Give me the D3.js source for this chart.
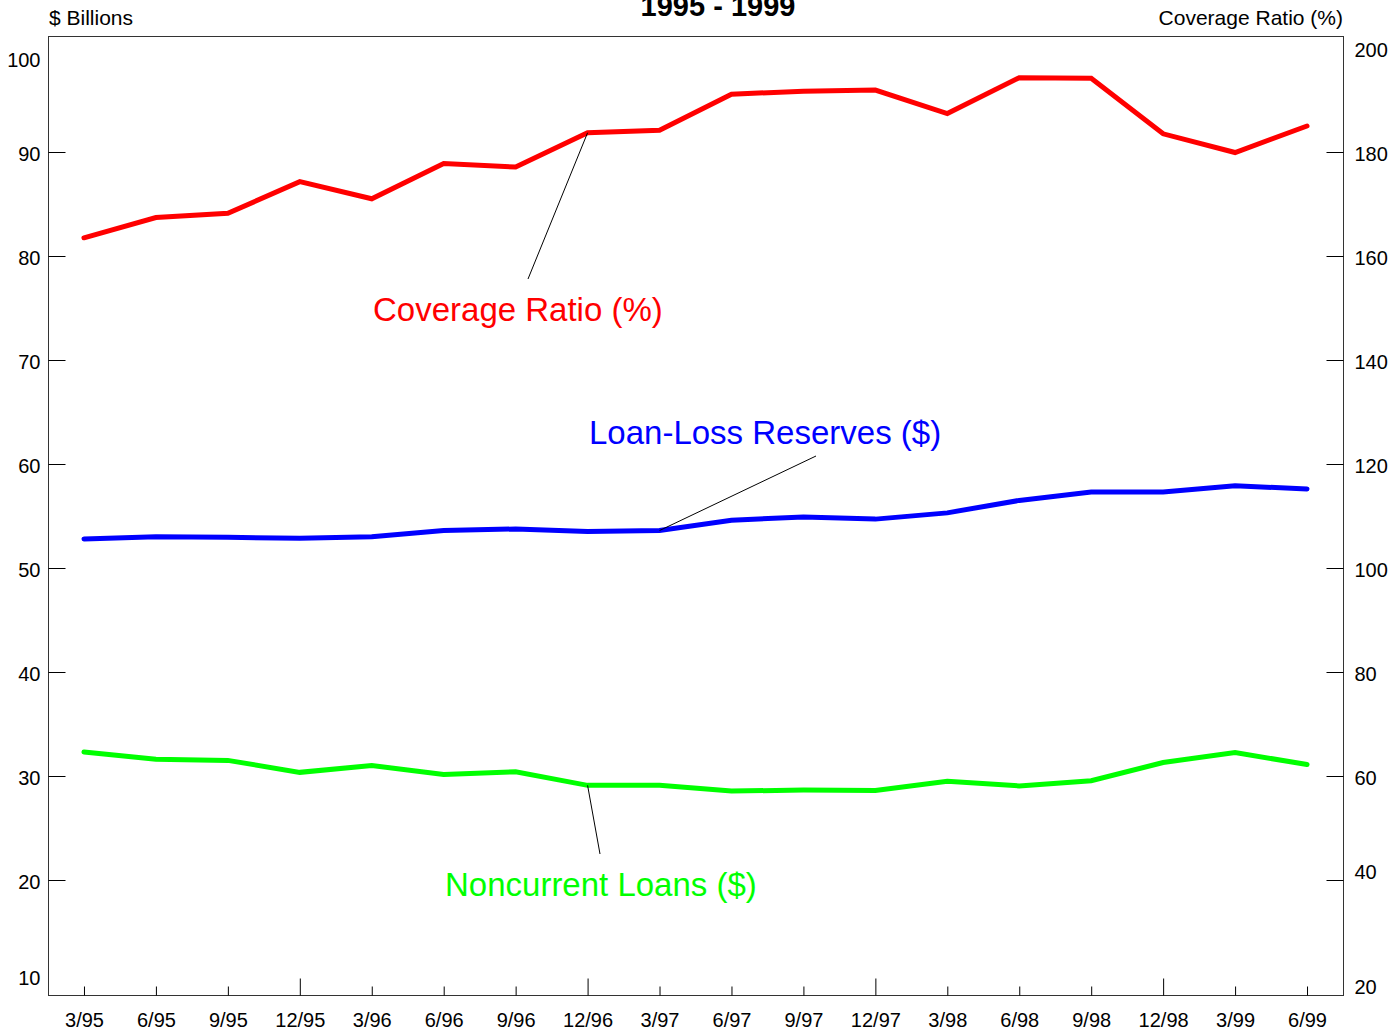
<!DOCTYPE html>
<html>
<head>
<meta charset="utf-8">
<script src="https://d3js.org/d3.v7.min.js"></script>
<style>
  body { margin: 0; background: #fff; }
  svg { display: block; font-family: "Liberation Sans", Arial, sans-serif; }
</style>
</head>
<body>
<svg width="1400" height="1034"></svg>
<script>
// quarters, 1995 - 1999
var quarters = ["3/95", "6/95", "9/95", "12/95", "3/96", "6/96", "9/96", "12/96", "3/97",
                "6/97", "9/97", "12/97", "3/98", "6/98", "9/98", "12/98", "3/99", "6/99"];

// coverage ratio (%), right axis
var coverage = [163.5, 167.4, 168.2, 174.3, 171.0, 177.8, 177.1, 183.7, 184.2,
                191.1, 191.7, 191.9, 187.4, 194.3, 194.2, 183.5, 179.9, 185.0];

// loan-loss reserves ($ billions), left axis
var reserves = [52.8, 53.0, 52.95, 52.85, 53.0, 53.6, 53.75, 53.5, 53.6,
                54.6, 54.9, 54.7, 55.3, 56.5, 57.3, 57.3, 57.9, 57.6];

// noncurrent loans ($ billions), left axis
var noncurrent = [32.3, 31.6, 31.5, 30.35, 31.0, 30.15, 30.4, 29.1, 29.1,
                  28.55, 28.65, 28.6, 29.5, 29.05, 29.55, 31.3, 32.25, 31.1];

var leftTicks = [10, 20, 30, 40, 50, 60, 70, 80, 90, 100];
var rightTicks = [20, 40, 60, 80, 100, 120, 140, 160, 180, 200];

// plot frame
var frameL = 48, frameR = 1343, frameT = 36, frameB = 995;
var svg = d3.select("svg");

var x = d3.scalePoint().domain(quarters).range([frameL, frameR]).padding(0.5);
var yL = d3.scaleLinear().domain([10, 100]).range([984, 48]);
var yR = d3.scaleLinear().domain([20, 200]).range([984, 48]);

svg.append("rect")
  .attr("x", frameL + 0.5).attr("y", frameT + 0.5)
  .attr("width", frameR - frameL).attr("height", frameB - frameT)
  .attr("fill", "none").attr("stroke", "#333").attr("stroke-width", 1);

// left axis, ticks point inwards, none at the ends
var leftOffset = {100: 12, 10: -6};
var gL = svg.append("g").attr("transform", "translate(" + (frameL + 0.5) + ",0)")
  .call(d3.axisLeft(yL).tickValues(leftTicks).tickSizeInner(-17).tickSizeOuter(0).tickPadding(8));
gL.select(".domain").remove();
gL.selectAll(".tick").filter(d => d == 10 || d == 100).select("line").remove();
gL.selectAll(".tick text").attr("dy", d => (0.32 + (leftOffset[d] || 2) / 20) + "em");

// right axis
var rightOffset = {200: 2, 40: -8, 20: 3};
var gR = svg.append("g").attr("transform", "translate(" + (frameR + 0.5) + ",0)")
  .call(d3.axisRight(yR).tickValues(rightTicks).tickSizeInner(-17).tickSizeOuter(0).tickPadding(11));
gR.select(".domain").remove();
gR.selectAll(".tick").filter(d => d == 20 || d == 200).select("line").remove();
gR.selectAll(".tick text").attr("dy", d => (0.32 + (rightOffset[d] != null ? rightOffset[d] : 2) / 20) + "em");

// bottom axis, December ticks are longer
var gX = svg.append("g").attr("transform", "translate(0," + (frameB + 0.5) + ")")
  .call(d3.axisBottom(x).tickSizeInner(-9).tickSizeOuter(0).tickPadding(17));
gX.select(".domain").remove();
gX.selectAll(".tick line").attr("y2", d => d.indexOf("12/") == 0 ? -17 : -9);

svg.selectAll(".tick text").attr("font-size", 20).attr("fill", "#000")
  .attr("font-family", "Liberation Sans, Arial, sans-serif");
svg.selectAll(".tick line").attr("stroke", "#000");

// titles
svg.append("text").attr("x", 718).attr("y", 16).attr("text-anchor", "middle")
  .attr("font-size", 29).attr("font-weight", "bold").text("1995 - 1999");
svg.append("text").attr("x", 49).attr("y", 25).attr("font-size", 21).text("$ Billions");
svg.append("text").attr("x", 1343).attr("y", 25).attr("text-anchor", "end")
  .attr("font-size", 21).text("Coverage Ratio (%)");

// lines
var series = [
  {name: "Coverage Ratio (%)", values: coverage, y: yR, color: "#ff0000"},
  {name: "Loan-Loss Reserves ($)", values: reserves, y: yL, color: "#0000ff"},
  {name: "Noncurrent Loans ($)", values: noncurrent, y: yL, color: "#00ff00"}
];

series.forEach(function(s) {
  var line = d3.line()
    .x((d, i) => x(quarters[i]))
    .y(d => s.y(d));
  svg.append("path")
    .datum(s.values)
    .attr("d", line)
    .attr("fill", "none")
    .attr("stroke", s.color)
    .attr("stroke-width", 5)
    .attr("stroke-linecap", "round")
    .attr("stroke-linejoin", "miter");
});

// labels with leader lines pointing to a quarter on each series
var labels = [
  {s: 0, q: "12/96", tx: 373, ty: 321, lx: 528, ly: 279},
  {s: 1, q: "3/97", tx: 589, ty: 444, lx: 816, ly: 456},
  {s: 2, q: "12/96", tx: 445, ty: 896, lx: 600, ly: 854}
];

labels.forEach(function(l) {
  var s = series[l.s];
  var i = quarters.indexOf(l.q);
  svg.append("line")
    .attr("x1", l.lx).attr("y1", l.ly)
    .attr("x2", x(l.q)).attr("y2", s.y(s.values[i]))
    .attr("stroke", "#000").attr("stroke-width", 1);
  svg.append("text")
    .attr("x", l.tx).attr("y", l.ty)
    .attr("font-size", 33)
    .attr("fill", s.color)
    .text(s.name);
});
</script>
</body>
</html>
